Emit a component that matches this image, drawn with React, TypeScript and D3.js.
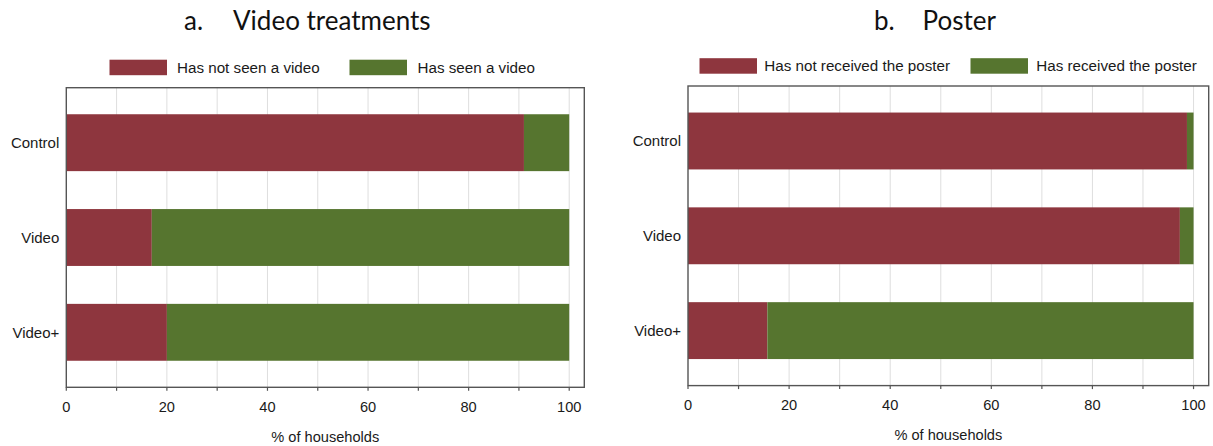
import React from "react";
import * as d3 from "d3";

// Treatment arms shown on the vertical axis
const categories = ["Control", "Video", "Video+"];

// Panel a: exposure to the video (% of households)
const videoNotSeen = [91, 17, 20];
const videoSeen = [9, 83, 80];

// Panel b: receipt of the poster (% of households)
const posterNotReceived = [98.7, 97.3, 15.7];
const posterReceived = [1.3, 2.7, 84.3];

// Axis ticks
const xTickLabels = [0, 20, 40, 60, 80, 100];
const xGridTicks = [10, 20, 30, 40, 50, 60, 70, 80, 90, 100];
const xMinorTicks = [0, 10, 20, 30, 40, 50, 60, 70, 80, 90, 100];

const RED = "#8E363E";
const GREEN = "#56752F";
const FONT = "'Liberation Sans', Arial, sans-serif";
const TITLE_FONT = "Lato, 'Open Sans', sans-serif";

type PanelProps = {
  letter: string;
  title: string;
  letterX: number;
  titleX: number;
  frame: { left: number; right: number; top: number; bottom: number };
  legend: {
    y: number;
    items: { x: number; textX: number; label: string; color: string }[];
  };
  first: number[];
  second: number[];
};

function Panel({ letter, title, letterX, titleX, frame, legend, first, second }: PanelProps) {
  const x = d3.scaleLinear().domain([0, 103]).range([frame.left, frame.right]);
  const y = d3
    .scaleBand<string>()
    .domain(categories)
    .range([frame.top, frame.bottom])
    .paddingInner(0.4)
    .paddingOuter(0.28);

  const stacked = categories.map((c, i) => ({
    cat: c,
    segs: [
      { x0: 0, x1: first[i], color: RED },
      { x0: first[i], x1: first[i] + second[i], color: GREEN },
    ],
  }));

  const midX = (frame.left + frame.right) / 2;

  return (
    <g>
      {/* Panel heading */}
      <text x={letterX} y={30} fontFamily={TITLE_FONT} fontSize={26} fill="#111">
        {letter}
      </text>
      <text x={titleX} y={30} fontFamily={TITLE_FONT} fontSize={26} fill="#111">
        {title}
      </text>

      {/* Legend */}
      {legend.items.map((it) => (
        <g key={it.label}>
          <rect x={it.x} y={legend.y - 7.8} width={57.5} height={15.5} fill={it.color} />
          <text
            x={it.textX}
            y={legend.y}
            dy="0.35em"
            fontFamily={FONT}
            fontSize={15.2}
            fill="#1a1a1a"
          >
            {it.label}
          </text>
        </g>
      ))}

      {/* Grid */}
      {xGridTicks.map((t) => (
        <line
          key={"g" + t}
          x1={x(t)}
          x2={x(t)}
          y1={frame.top}
          y2={frame.bottom}
          stroke="#dedede"
          strokeWidth={1}
        />
      ))}

      {/* Bars */}
      {stacked.map((row) =>
        row.segs.map((s, j) => (
          <rect
            key={row.cat + j}
            x={x(s.x0)}
            y={y(row.cat)!}
            width={x(s.x1) - x(s.x0)}
            height={y.bandwidth()}
            fill={s.color}
          />
        ))
      )}

      {/* Frame */}
      <rect
        x={frame.left}
        y={frame.top}
        width={frame.right - frame.left}
        height={frame.bottom - frame.top}
        fill="none"
        stroke="#555"
        strokeWidth={1.4}
      />

      {/* Category labels */}
      {categories.map((c) => (
        <text
          key={c}
          x={frame.left - 7}
          y={y(c)! + y.bandwidth() / 2}
          dy="0.35em"
          textAnchor="end"
          fontFamily={FONT}
          fontSize={15}
          fill="#1a1a1a"
        >
          {c}
        </text>
      ))}

      {/* Ticks and tick labels */}
      {xMinorTicks.map((t) => (
        <line
          key={"t" + t}
          x1={x(t)}
          x2={x(t)}
          y1={frame.bottom}
          y2={frame.bottom + 3.5}
          stroke="#555"
          strokeWidth={1.2}
        />
      ))}
      {xTickLabels.map((t) => (
        <text
          key={"l" + t}
          x={x(t)}
          y={frame.bottom + 19.5}
          dy="0.35em"
          textAnchor="middle"
          fontFamily={FONT}
          fontSize={14.6}
          fill="#1a1a1a"
        >
          {t}
        </text>
      ))}

      {/* Axis title */}
      <text
        x={midX}
        y={frame.bottom + 49.3}
        dy="0.35em"
        textAnchor="middle"
        fontFamily={FONT}
        fontSize={14.6}
        fill="#1a1a1a"
      >
        % of households
      </text>
    </g>
  );
}

export default function App() {
  return (
    <svg
      width={1213}
      height={446}
      viewBox="0 0 1213 446"
      style={{ position: "absolute", left: 0, top: 0, background: "#fff" }}
    >
      <rect x={0} y={0} width={1213} height={446} fill="#fff" />
      <Panel
        letter="a."
        title="Video treatments"
        letterX={184}
        titleX={233}
        frame={{ left: 66.3, right: 584.3, top: 87.7, bottom: 387.3 }}
        legend={{
          y: 67.5,
          items: [
            { x: 109.5, textX: 177, label: "Has not seen a video", color: RED },
            { x: 349.5, textX: 417.5, label: "Has seen a video", color: GREEN },
          ],
        }}
        first={videoNotSeen}
        second={videoSeen}
      />
      <Panel
        letter="b."
        title="Poster"
        letterX={874}
        titleX={922.5}
        frame={{ left: 688, right: 1208.7, top: 86, bottom: 385.6 }}
        legend={{
          y: 66,
          items: [
            { x: 699.5, textX: 764.3, label: "Has not received the poster", color: RED },
            { x: 970.5, textX: 1036.3, label: "Has received the poster", color: GREEN },
          ],
        }}
        first={posterNotReceived}
        second={posterReceived}
      />
    </svg>
  );
}
